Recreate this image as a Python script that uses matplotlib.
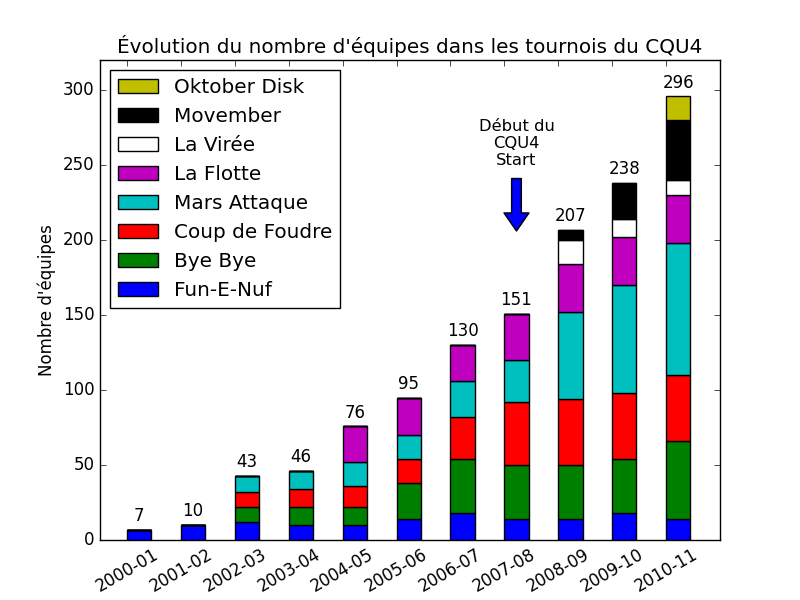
# stacked bar chart: number of teams per tournament, CQU4
import numpy as np
import matplotlib
matplotlib.use('Agg')
import matplotlib.pyplot as plt

plt.style.use('classic')

seasons = ['2000-01', '2001-02', '2002-03', '2003-04', '2004-05', '2005-06',
           '2006-07', '2007-08', '2008-09', '2009-10', '2010-11']

# teams per tournament, bottom to top of the stack
fun_e_nuf     = [7, 10, 12, 10, 10, 14, 18, 14, 14, 18, 14]
bye_bye       = [0, 0, 10, 12, 12, 24, 36, 36, 36, 36, 52]
coup_foudre   = [0, 0, 10, 12, 14, 16, 28, 42, 44, 44, 44]
mars_attaque  = [0, 0, 11, 12, 16, 16, 24, 28, 58, 72, 88]
la_flotte     = [0, 0, 0, 0, 24, 25, 24, 31, 32, 32, 32]
la_viree      = [0, 0, 0, 0, 0, 0, 0, 0, 16, 12, 10]
movember      = [0, 0, 0, 0, 0, 0, 0, 0, 7, 24, 40]
oktober_disk  = [0, 0, 0, 0, 0, 0, 0, 0, 0, 0, 16]

series = [fun_e_nuf, bye_bye, coup_foudre, mars_attaque, la_flotte,
          la_viree, movember, oktober_disk]
names = ['Fun-E-Nuf', 'Bye Bye', 'Coup de Foudre', 'Mars Attaque',
         'La Flotte', 'La Virée', 'Movember', 'Oktober Disk']
colors = ['b', 'g', 'r', 'c', 'm', 'w', 'k', 'y']

ind = np.arange(len(seasons))
width = 0.45

fig = plt.figure(figsize=(8, 6), dpi=100)
ax = fig.add_subplot(111)

bottom = np.zeros(len(seasons))
handles = []
for vals, name, col in zip(series, names, colors):
    vals = np.asarray(vals, dtype=float)
    b = ax.bar(ind, vals, width, bottom=bottom, color=col, align='edge',
               edgecolor='k', label=name)
    handles.append(b)
    bottom = bottom + vals

# totals above each bar
for i, tot in enumerate(bottom):
    ax.text(ind[i] + width / 2, tot + 3, '%d' % tot, ha='center', va='bottom',
            fontsize=12)

# start of CQU4 Start
ax.text(7 + width / 2, 248, 'Début du\nCQU4\nStart', ha='center', va='bottom',
        multialignment='center', fontsize=11.8, linespacing=1.15)
ax.annotate('', xy=(7 + width / 2, 206), xytext=(7 + width / 2, 241),
            arrowprops=dict(facecolor='blue', edgecolor='k', width=7,
                            headwidth=18, headlength=13, shrink=0))

ax.set_xlim(-0.5, 11)
ax.set_ylim(0, 320)
ax.set_yticks(np.arange(0, 301, 50))
ax.set_xticks(ind)
ax.set_xticklabels(seasons, rotation=30, ha='center')
ax.set_ylabel("Nombre d'équipes")
ax.set_title("Évolution du nombre d'équipes dans les tournois du CQU4")

ax.legend(handles[::-1], names[::-1], loc='upper left', fontsize='large')

fig.savefig('out.png', dpi=100, facecolor='white')
